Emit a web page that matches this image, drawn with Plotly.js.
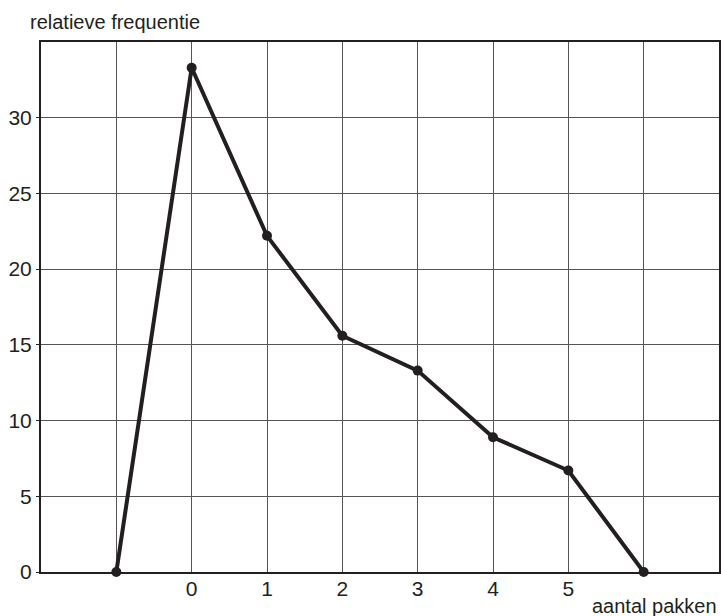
<!DOCTYPE html>
<html>
<head>
<meta charset="utf-8">
<script src="https://cdn.plot.ly/plotly-3.0.1.min.js"></script>
<style>html,body{margin:0;padding:0;background:#fff;}#chart{width:721px;height:616px;}</style>
</head>
<body>
<div id="chart"></div>
<script>
const xValues = [-1, 0, 1, 2, 3, 4, 5, 6];
const yValues = [0, 33.3, 22.2, 15.6, 13.3, 8.9, 6.7, 0];
const xTickVals = [-1, 0, 1, 2, 3, 4, 5, 6];
const xTickText = ['', '0', '1', '2', '3', '4', '5', ''];
const yTickVals = [0, 5, 10, 15, 20, 25, 30];
const yTitle = 'relatieve frequentie';
const xTitle = 'aantal pakken';

const ink = '#231f20';
const trace = {
  x: xValues, y: yValues, type: 'scatter', mode: 'lines+markers',
  line: {color: ink, width: 4},
  marker: {color: ink, size: 10},
  cliponaxis: false, hoverinfo: 'skip'
};
const layout = {
  width: 721, height: 616,
  margin: {l: 41, r: 2, t: 42, b: 44},
  paper_bgcolor: '#fff', plot_bgcolor: '#fff',
  showlegend: false,
  font: {family: 'Liberation Sans, Arial, sans-serif', size: 20, color: ink},
  xaxis: {
    range: [-2, 7], tickmode: 'array', tickvals: xTickVals, ticktext: xTickText,
    tickfont: {size: 21}, ticklabelstandoff: -3,
    showgrid: true, gridcolor: '#555', gridwidth: 1, zeroline: false,
    showline: true, linecolor: ink, linewidth: 2, mirror: true,
    ticks: '', fixedrange: true
  },
  yaxis: {
    range: [0, 35], tickmode: 'array', tickvals: yTickVals,
    tickfont: {size: 21},
    showgrid: true, gridcolor: '#555', gridwidth: 1, zeroline: false,
    showline: true, linecolor: ink, linewidth: 2, mirror: true,
    ticks: 'outside', ticklen: 3, tickcolor: ink, fixedrange: true
  },
  annotations: [
    {text: yTitle, xref: 'paper', yref: 'paper', x: -0.019, y: 1, xanchor: 'left', yanchor: 'bottom', yshift: 7, showarrow: false, font: {size: 20, color: ink}},
    {text: xTitle, xref: 'paper', yref: 'paper', x: 1, y: 0, xanchor: 'right', yanchor: 'top', yshift: -21, xshift: 0, showarrow: false, font: {size: 20, color: ink}}
  ]
};
Plotly.newPlot('chart', [trace], layout, {displayModeBar: false, staticPlot: true});
</script>
</body>
</html>
